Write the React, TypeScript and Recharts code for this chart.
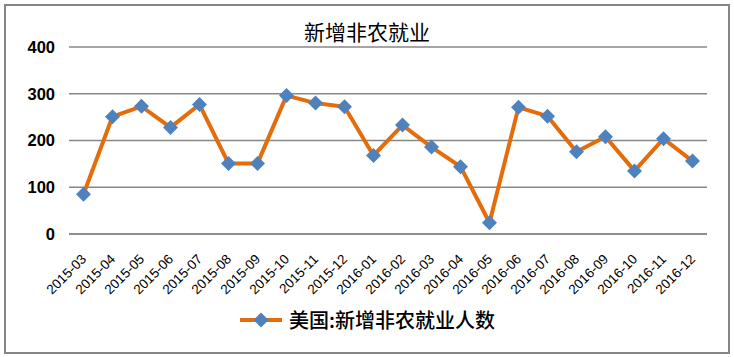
import React from 'react';
import { LineChart, Line, XAxis, YAxis, CartesianGrid } from 'recharts';

const months = [
  '2015-03', '2015-04', '2015-05', '2015-06', '2015-07', '2015-08', '2015-09', '2015-10',
  '2015-11', '2015-12', '2016-01', '2016-02', '2016-03', '2016-04', '2016-05', '2016-06',
  '2016-07', '2016-08', '2016-09', '2016-10', '2016-11', '2016-12'
];
const payrolls = [
  85, 251, 273, 228, 277, 151, 151, 296, 280, 272, 168, 233, 186, 144, 24, 271,
  252, 176, 208, 135, 204, 156
];
const yTicks = [0, 100, 200, 300, 400];

const seriesName = '美国:新增非农就业人数';
const title = '新增非农就业';

const data = months.map((m, i) => ({ month: m, value: payrolls[i] }));

const LINE = '#E46C0A';
const MARK = '#4F81BD';
const GRID = '#878787';

const Diamond = (props: any) => {
  const { cx, cy } = props;
  if (cx == null || cy == null) return null;
  const r = 7.5;
  return (
    <polygon
      points={`${cx},${cy - r} ${cx + r},${cy} ${cx},${cy + r} ${cx - r},${cy}`}
      fill={MARK}
    />
  );
};

const XTick = (props: any) => {
  const { x, y, payload } = props;
  return (
    <text
      x={0}
      y={0}
      transform={`translate(${x + 3.5},${y + 18}) rotate(-45)`}
      textAnchor="end"
      fontSize={13.5}
      fontFamily="'Liberation Sans', Arial, sans-serif"
      fill="#000"
    >
      {payload.value}
    </text>
  );
};

export default function App() {
  return (
    <div style={{ position: 'absolute', left: 0, top: 0, width: 734, height: 357, background: '#fff' }}>
      <div
        style={{
          position: 'absolute', left: 4, top: 4, width: 722, height: 346,
          border: '2px solid #868686', pointerEvents: 'none'
        }}
      />
      <div
        style={{
          position: 'absolute', left: 0, top: 16, width: 734, textAlign: 'center',
          fontFamily: "'Noto Sans CJK SC', sans-serif", fontSize: 21, color: '#000', lineHeight: '30px'
        }}
      >
        {title}
      </div>
      <div
        style={{
          position: 'absolute', left: 0, top: 307, width: 734,
          display: 'flex', alignItems: 'center', justifyContent: 'center'
        }}
      >
        <svg width={44} height={16} style={{ marginRight: 6 }}>
          <line x1={1} y1={8} x2={43} y2={8} stroke={LINE} strokeWidth={4} />
          <polygon points="22,0.5 29.5,8 22,15.5 14.5,8" fill={MARK} />
        </svg>
        <span
          style={{
            fontFamily: "'Noto Sans CJK SC', sans-serif", fontSize: 20, color: '#000',
            fontWeight: 500, lineHeight: '26px'
          }}
        >
          {seriesName}
        </span>
      </div>
      <div style={{ position: 'absolute', left: 0, top: 0 }}>
        <LineChart
          width={734}
          height={357}
          data={data}
          margin={{ top: 47, right: 27, bottom: 0, left: 0 }}
        >
          <CartesianGrid vertical={false} stroke={GRID} strokeWidth={1.5} />
          <XAxis
            dataKey="month"
            height={123}
            interval={0}
            padding={{ left: 14.5, right: 14.5 }}
            tickLine={false}
            axisLine={{ stroke: GRID, strokeWidth: 1.5 }}
            tick={<XTick />}
          />
          <YAxis
            width={69}
            domain={[0, 400]}
            ticks={yTicks}
            tickLine={false}
            axisLine={false}
            tickSize={0}
            tickMargin={14}
            tick={{ fontSize: 16.5, fontWeight: 'bold', fill: '#000', fontFamily: "'Liberation Sans', Arial, sans-serif" }}
          />
          <Line
            type="linear"
            dataKey="value"
            name={seriesName}
            stroke={LINE}
            strokeWidth={4}
            dot={<Diamond />}
            activeDot={false}
            isAnimationActive={false}
          />
        </LineChart>
      </div>
    </div>
  );
}
